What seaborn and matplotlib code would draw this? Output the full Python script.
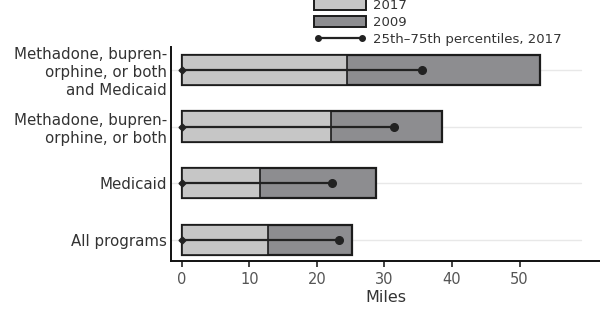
import pandas as pd
import seaborn as sns
import matplotlib.pyplot as plt
from matplotlib.patches import Patch
from matplotlib.lines import Line2D

categories = ['Methadone, bupren-\norphine, or both\nand Medicaid',
              'Methadone, bupren-\norphine, or both',
              'Medicaid',
              'All programs']
miles_2009 = [53.0, 38.5, 28.7, 25.2]
miles_2017 = [24.5, 22.1, 11.5, 12.8]
p25_2017 = [0, 0, 0, 0]
p75_2017 = [35.5, 31.4, 22.3, 23.2]

df = pd.DataFrame({'program': categories, 'y2009': miles_2009, 'y2017': miles_2017,
                   'p25': p25_2017, 'p75': p75_2017})

sns.set_style('white')
plt.rcParams['font.family'] = ['DejaVu Sans']

light = '#c6c6c6'
dark = '#8d8d90'
edge = '#1c1c1c'

fig = plt.figure(figsize=(6, 3.14), dpi=100)
ax = fig.add_axes([0.285, 0.169, 0.715, 0.681])

for i in range(len(categories)):
    ax.axhline(i, xmax=0.955, color='#e8e8e8', lw=1, zorder=0)

sns.barplot(data=df, x='y2009', y='program', orient='h', color=dark, saturation=1,
            edgecolor=edge, linewidth=1.6, width=0.53, ax=ax, zorder=2)
sns.barplot(data=df, x='y2017', y='program', orient='h', color=light, saturation=1,
            edgecolor=edge, linewidth=1.2, width=0.53, ax=ax, zorder=3)

for i, row in df.iterrows():
    ax.plot([row['p25'], row['p75']], [i, i], color='#222222', lw=1.6, zorder=4)
    ax.plot(row['p25'], i, marker='D', ms=3.5, color='#222222', zorder=5)
    ax.plot(row['p75'], i, marker='o', ms=5.5, color='#222222', zorder=5)

ax.set_xlim(-1.6, 61.9)
ax.set_ylim(3.37, -0.40)
ax.set_xticks([0, 10, 20, 30, 40, 50])
ax.set_xlabel('Miles', fontsize=11.5, color='#333333', labelpad=2)
ax.set_ylabel('')
ax.tick_params(axis='x', length=4, width=1.2, color='#222222', labelsize=10.5,
               labelcolor='#555555', bottom=True, pad=4)
ax.tick_params(axis='y', length=0, labelsize=10.8, labelcolor='#333333', pad=3)
for lbl in ax.get_yticklabels():
    lbl.set_linespacing(1.22)
for s in ['top', 'right']:
    ax.spines[s].set_visible(False)
for s in ['left', 'bottom']:
    ax.spines[s].set_color('#111111')
    ax.spines[s].set_linewidth(1.4)

handles = [Patch(facecolor=light, edgecolor=edge, linewidth=1.4, label='2017'),
           Patch(facecolor=dark, edgecolor=edge, linewidth=1.4, label='2009'),
           Line2D([0], [0], color='#222222', lw=1.6, marker='o', ms=4,
                  label='25th–75th percentiles, 2017')]
fig.legend(handles=handles, loc='upper left', bbox_to_anchor=(0.503, 1.04),
           frameon=False, fontsize=9.5, numpoints=2, handlelength=4.0,
           handleheight=0.9, labelspacing=0.27, handletextpad=0.5,
           labelcolor='#333333')

fig.savefig('out.png', dpi=100)
